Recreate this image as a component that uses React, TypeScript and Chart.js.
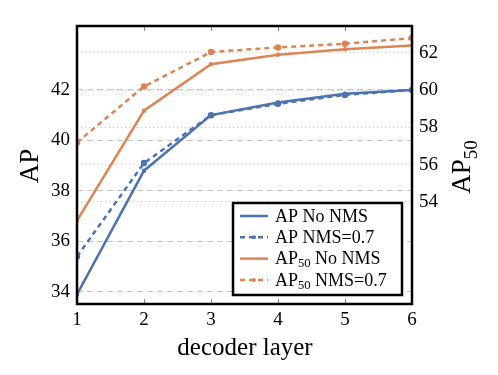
import React, { useEffect, useRef } from "react";
import { Chart, registerables } from "chart.js";

Chart.register(...registerables);

const layers = [1, 2, 3, 4, 5, 6];
const apNoNms = [33.9, 38.8, 41.0, 41.5, 41.85, 42.0];
const apNms = [35.4, 39.1, 41.0, 41.45, 41.8, 42.0];
const ap50NoNms = [53.0, 58.9, 61.4, 61.9, 62.2, 62.4];
const ap50Nms = [57.2, 60.2, 62.05, 62.3, 62.5, 62.8];

const apTicks = [34, 36, 38, 40, 42];
const ap50Ticks = [54, 56, 58, 60, 62];

const labels = ["AP No NMS", "AP NMS=0.7", "AP₅₀ No NMS", "AP₅₀ NMS=0.7"];
const xTitle = "decoder layer";
const yLeftTitle = "AP";
const yRightTitle = "AP₅₀";

const BLUE = "#4c72b0";
const ORANGE = "#dd8452";
const FONT = "'Liberation Serif', 'DejaVu Serif', serif";

const SUB: Record<string, string> = { "₀": "0", "₁": "1", "₂": "2", "₃": "3", "₄": "4", "₅": "5", "₆": "6", "₇": "7", "₈": "8", "₉": "9" };

function splitRich(text: string) {
  const parts: { t: string; sub: boolean }[] = [];
  for (const ch of text) {
    const isSub = ch in SUB;
    const c = isSub ? SUB[ch] : ch;
    const last = parts[parts.length - 1];
    if (last && last.sub === isSub) last.t += c;
    else parts.push({ t: c, sub: isSub });
  }
  return parts;
}

function drawRich(ctx: CanvasRenderingContext2D, text: string, x: number, y: number, size: number) {
  let cx = x;
  for (const p of splitRich(text)) {
    const s = p.sub ? size * 0.7 : size;
    ctx.font = `${s}px ${FONT}`;
    ctx.fillText(p.t, cx, p.sub ? y + size * 0.25 : y);
    cx += ctx.measureText(p.t).width;
  }
  return cx - x;
}

function richWidth(ctx: CanvasRenderingContext2D, text: string, size: number) {
  let w = 0;
  for (const p of splitRich(text)) {
    const s = p.sub ? size * 0.7 : size;
    ctx.font = `${s}px ${FONT}`;
    w += ctx.measureText(p.t).width;
  }
  return w;
}

const decorPlugin = {
  id: "decor",
  afterDraw(chart: any) {
    const ctx: CanvasRenderingContext2D = chart.ctx;
    const { left, right, top, bottom } = chart.chartArea;
    const xs = chart.scales.x;
    ctx.save();
    // inward x tick marks
    ctx.strokeStyle = "#888";
    ctx.lineWidth = 1;
    for (const v of layers.slice(1, -1)) {
      const px = Math.round(xs.getPixelForValue(v)) + 0.5;
      ctx.beginPath();
      ctx.moveTo(px, top);
      ctx.lineTo(px, top + 5);
      ctx.moveTo(px, bottom);
      ctx.lineTo(px, bottom - 5);
      ctx.stroke();
    }
    // frame
    ctx.strokeStyle = "#000";
    ctx.lineWidth = 2.5;
    ctx.strokeRect(left, top, right - left, bottom - top);

    // legend
    const lx = 233, ly = 203, lw = 169, lh = 92;
    ctx.fillStyle = "#fff";
    ctx.fillRect(lx, ly, lw, lh);
    ctx.strokeRect(lx, ly, lw, lh);
    const ds = chart.data.datasets;
    ctx.fillStyle = "#000";
    ctx.textBaseline = "middle";
    ctx.textAlign = "left";
    for (let i = 0; i < ds.length; i++) {
      const y = 216 + i * 21.3;
      ctx.strokeStyle = ds[i].borderColor;
      ctx.lineWidth = 2.5;
      ctx.setLineDash(ds[i].borderDash || []);
      ctx.beginPath();
      ctx.moveTo(240, y);
      ctx.lineTo(268, y);
      ctx.stroke();
      ctx.setLineDash([]);
      if (ds[i].borderDash) {
        ctx.fillStyle = ds[i].borderColor;
        ctx.beginPath();
        ctx.arc(254, y, 2, 0, Math.PI * 2);
        ctx.fill();
      }
      ctx.fillStyle = "#000";
      drawRich(ctx, ds[i].label, 275, y + 1, 18);
    }

    // axis titles
    ctx.textBaseline = "alphabetic";
    ctx.fillStyle = "#000";
    ctx.font = `25px ${FONT}`;
    const tw = ctx.measureText(xTitle).width;
    ctx.fillText(xTitle, 245 - tw / 2, 355);

    ctx.save();
    ctx.translate(38, 166);
    ctx.rotate(-Math.PI / 2);
    ctx.font = `27px ${FONT}`;
    const lw2 = ctx.measureText(yLeftTitle).width;
    ctx.fillText(yLeftTitle, -lw2 / 2, 0);
    ctx.restore();

    ctx.save();
    ctx.translate(470, 167);
    ctx.rotate(-Math.PI / 2);
    const rw = richWidth(ctx, yRightTitle, 27);
    drawRich(ctx, yRightTitle, -rw / 2, 0, 27);
    ctx.restore();

    ctx.restore();
  },
};

export default function App() {
  const ref = useRef<HTMLCanvasElement>(null);
  useEffect(() => {
    document.body.style.margin = "0";
    const mk = (vals: number[]) => layers.map((x, i) => ({ x, y: vals[i] }));
    const chart = new Chart(ref.current!, {
      type: "line",
      data: {
        datasets: [
          { label: labels[0], data: mk(apNoNms), yAxisID: "yL", borderColor: BLUE, backgroundColor: BLUE, borderWidth: 2.5, pointRadius: 1, tension: 0 },
          { label: labels[1], data: mk(apNms), yAxisID: "yL", borderColor: BLUE, backgroundColor: BLUE, borderWidth: 2.5, borderDash: [5, 4], pointRadius: 2, tension: 0 },
          { label: labels[2], data: mk(ap50NoNms), yAxisID: "yR", borderColor: ORANGE, backgroundColor: ORANGE, borderWidth: 2.5, pointRadius: 1, tension: 0 },
          { label: labels[3], data: mk(ap50Nms), yAxisID: "yR", borderColor: ORANGE, backgroundColor: ORANGE, borderWidth: 2.5, borderDash: [5, 4], pointRadius: 2, tension: 0 },
        ] as any,
      },
      options: {
        responsive: false,
        animation: false,
        devicePixelRatio: 1,
        layout: { padding: { top: 26, left: 0, right: 0, bottom: 0 } },
        plugins: { legend: { display: false }, tooltip: { enabled: false } },
        scales: {
          x: {
            type: "linear",
            min: 1,
            max: 6,
            grid: { display: false, drawTicks: false },
            border: { display: false },
            ticks: { stepSize: 1, color: "#000", font: { size: 19, family: FONT }, padding: 5 },
            afterFit: (s: any) => { s.height = 71; },
          },
          yL: {
            type: "linear",
            position: "left",
            min: 33.52,
            max: 44.53,
            afterBuildTicks: (s: any) => { s.ticks = apTicks.map((v) => ({ value: v })); },
            grid: { color: "#c4c4c4", lineWidth: 1, drawTicks: false },
            border: { display: false, dash: [6, 4] },
            ticks: { color: "#000", font: { size: 19, family: FONT }, padding: 7 },
            afterFit: (s: any) => { s.width = 77; },
          },
          yR: {
            type: "linear",
            position: "right",
            min: 48.52,
            max: 63.45,
            afterBuildTicks: (s: any) => { s.ticks = ap50Ticks.map((v) => ({ value: v })); },
            grid: { color: "#c4c4c4", lineWidth: 1, drawTicks: false },
            border: { display: false, dash: [1, 3] },
            ticks: { color: "#000", font: { size: 19, family: FONT }, padding: 7 },
            afterFit: (s: any) => { s.width = 86; },
          },
        },
      } as any,
      plugins: [decorPlugin],
    });
    return () => chart.destroy();
  }, []);
  return (
    <div style={{ width: 498, height: 375, background: "#fff" }}>
      <canvas ref={ref} width={498} height={375} style={{ width: 498, height: 375, display: "block" }} />
    </div>
  );
}
